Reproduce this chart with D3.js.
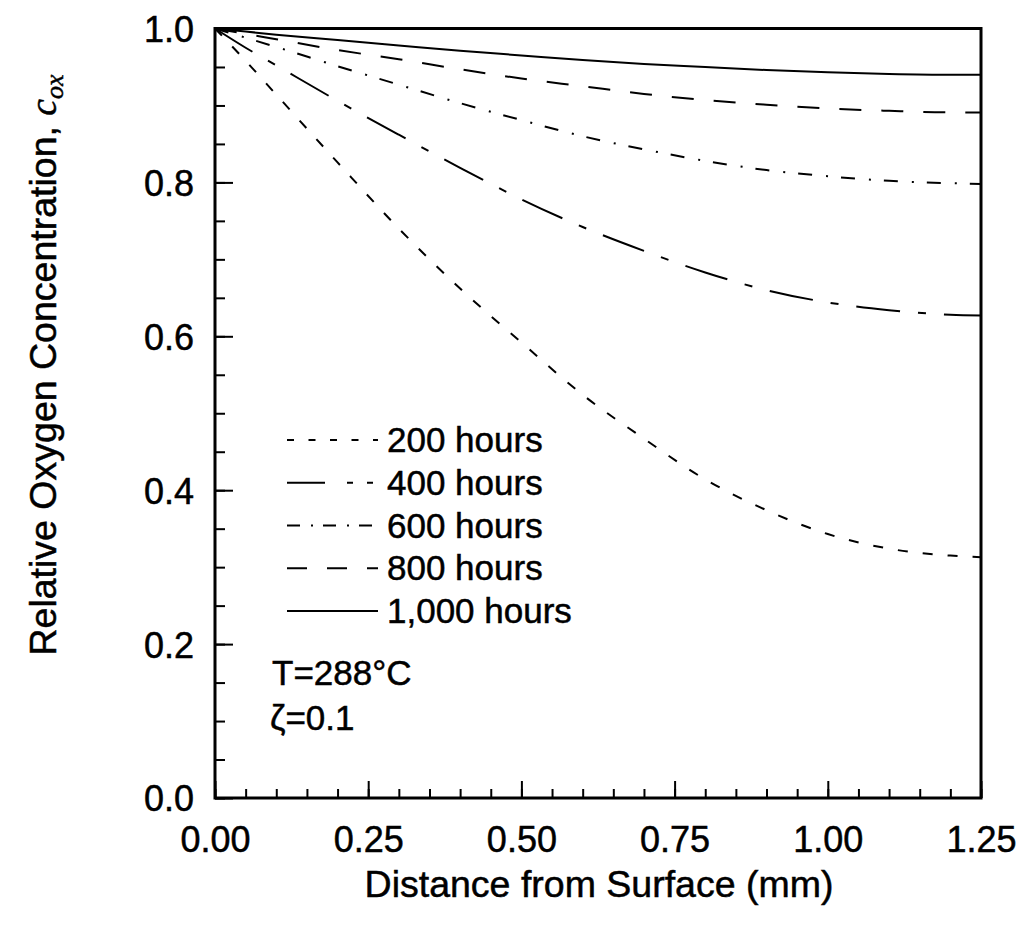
<!DOCTYPE html>
<html lang="en">
<head>
    <meta charset="UTF-8">
    <title>Relative Oxygen Concentration</title>
    <script src="https://d3js.org/d3.v7.min.js"></script>
    <style>
    body { margin: 0; background: #fff; }
    svg text { font-family: "Liberation Sans", Arial, Helvetica, sans-serif; fill: #000; stroke: #000; stroke-width: 0.5px; }
    .curve { fill: none; stroke: #000; stroke-width: 2px; }
    .tick line { stroke: #000; stroke-width: 2px; }
    </style>
</head>
<body>
<svg id="chart"></svg>
<script>
    // distance from surface (mm)
    const distance = [0, 0.05, 0.1, 0.2, 0.3, 0.4, 0.5, 0.6, 0.7, 0.8, 0.9, 1.0, 1.1, 1.2, 1.25];

    // relative oxygen concentration
    const c200  = [1.0, 0.958, 0.914, 0.826, 0.740, 0.662, 0.592, 0.524, 0.467, 0.414, 0.374, 0.343, 0.324, 0.315, 0.313];
    const c400  = [1.0, 0.975, 0.952, 0.906, 0.862, 0.819, 0.778, 0.742, 0.711, 0.683, 0.660, 0.644, 0.634, 0.628, 0.627];
    const c600  = [1.0, 0.988, 0.976, 0.951, 0.927, 0.903, 0.881, 0.860, 0.843, 0.828, 0.816, 0.808, 0.802, 0.799, 0.798];
    const c800  = [1.0, 0.993, 0.986, 0.972, 0.960, 0.947, 0.935, 0.925, 0.915, 0.907, 0.901, 0.896, 0.893, 0.891, 0.891];
    const c1000 = [1.0, 0.996, 0.992, 0.985, 0.978, 0.971, 0.965, 0.959, 0.954, 0.950, 0.946, 0.943, 0.941, 0.940, 0.940];

    const seriesNames = ["200 hours", "400 hours", "600 hours", "800 hours", "1,000 hours"];
    const xTicks = [0, 0.25, 0.5, 0.75, 1.0, 1.25];
    const yTicks = [0, 0.2, 0.4, 0.6, 0.8, 1.0];

    const series = [c200, c400, c600, c800, c1000];
    // dash patterns along the curves and in the legend
    const dashes = ["10,15", "44,18,8,18", "14,14,2,13", "22,20", null];
    const legendDashes = ["7,14.5", "38,22,6,14,6,30", "13,11,2,10", "20,20", null];

    const W = 1024, H = 931;
    const plotL = 215, plotR = 981, plotT = 28.5, plotB = 798;

    const svg = d3.select("#chart").attr("width", W).attr("height", H);

    const x = d3.scaleLinear().domain([0, 1.25]).range([plotL, plotR]);
    const y = d3.scaleLinear().domain([0, 1.0]).range([plotB, plotT]);

    // minor ticks every 0.05
    const minorX = d3.range(0, 1.2501, 0.05).map(v => +v.toFixed(2));
    const minorY = d3.range(0, 1.0001, 0.05).map(v => +v.toFixed(2));

    // x axis: inward ticks
    svg.append("g")
        .attr("transform", `translate(0,${plotB})`)
        .call(d3.axisBottom(x).tickValues(minorX).tickSize(-9).tickFormat(""))
        .call(g => g.select(".domain").remove());
    svg.append("g")
        .attr("transform", `translate(0,${plotB})`)
        .call(d3.axisBottom(x).tickValues(xTicks).tickSize(-17).tickPadding(0).tickFormat(d3.format(".2f")))
        .call(g => g.select(".domain").remove())
        .call(g => g.selectAll("text").attr("y", 54).attr("dy", null)
            .style("font-size", "36px"));

    // y axis
    svg.append("g")
        .attr("transform", `translate(${plotL},0)`)
        .call(d3.axisLeft(y).tickValues(minorY).tickSize(-10).tickFormat(""))
        .call(g => g.select(".domain").remove());
    svg.append("g")
        .attr("transform", `translate(${plotL},0)`)
        .call(d3.axisLeft(y).tickValues(yTicks).tickSize(-18).tickFormat(d3.format(".1f")))
        .call(g => g.select(".domain").remove())
        .call(g => g.selectAll("text").attr("x", -21).attr("dy", "0.36em")
            .style("font-size", "36px"));

    // curves
    const line = d3.line()
        .x((d, i) => x(distance[i]))
        .y(d => y(d))
        .curve(d3.curveMonotoneX);

    svg.append("g").selectAll("path")
        .data(series)
        .enter().append("path")
        .attr("class", "curve")
        .attr("d", line)
        .attr("stroke-dasharray", (d, i) => dashes[i]);

    // frame
    svg.append("rect")
        .attr("x", plotL).attr("y", plotT)
        .attr("width", plotR - plotL).attr("height", plotB - plotT)
        .attr("fill", "none").attr("stroke", "#000").attr("stroke-width", 3);

    // legend
    const legend = svg.append("g");
    seriesNames.forEach((name, i) => {
        const base = 452 + i * 42.75;
        legend.append("line")
            .attr("x1", 287).attr("x2", 378)
            .attr("y1", base - 12).attr("y2", base - 12)
            .attr("stroke", "#000").attr("stroke-width", 1.8)
            .attr("stroke-dasharray", legendDashes[i]);
        legend.append("text")
            .attr("x", 387).attr("y", base)
            .style("font-size", "35px")
            .text(name);
    });

    svg.append("text").attr("x", 272).attr("y", 685)
        .style("font-size", "35px").text("T=288°C");
    svg.append("text").attr("x", 270).attr("y", 730)
        .style("font-size", "35px").text("ζ=0.1");

    // axis titles
    svg.append("text")
        .attr("x", 599).attr("y", 897)
        .attr("text-anchor", "middle")
        .style("font-size", "37.5px")
        .text("Distance from Surface (mm)");

    const yt = svg.append("text")
        .attr("transform", "translate(56,365) rotate(-90)")
        .attr("text-anchor", "middle")
        .style("font-size", "37.5px");
    yt.append("tspan").text("Relative Oxygen Concentration, ");
    yt.append("tspan").style("font-style", "italic").style("font-family", "'Liberation Serif', serif").text("c");
    yt.append("tspan").style("font-style", "italic").style("font-family", "'Liberation Serif', serif")
        .style("font-size", "26px").attr("dy", 7).text("ox");
</script>
</body>
</html>
